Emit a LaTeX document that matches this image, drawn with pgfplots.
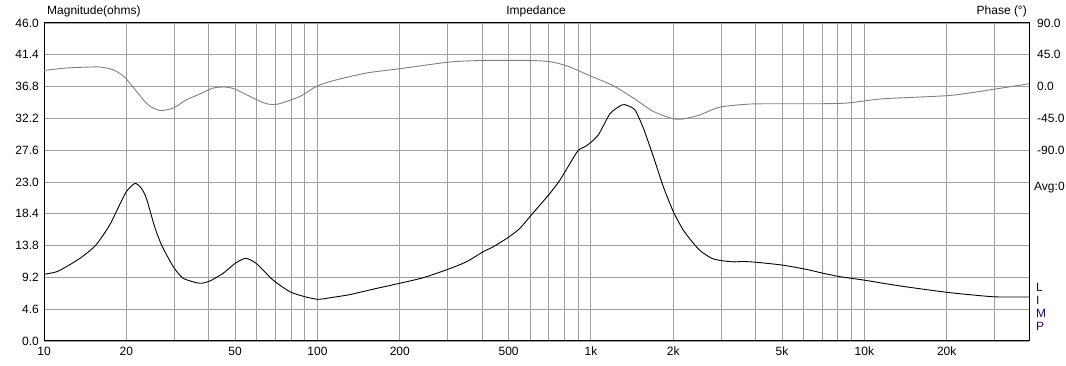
\documentclass[border=0pt]{standalone}
\usepackage{pgfplots}
\pgfplotsset{compat=1.18}
\usepackage{fontspec}
\setmainfont{Liberation Sans}
\definecolor{gridc}{RGB}{160,160,160}
\definecolor{phasec}{RGB}{128,128,128}
\definecolor{limpc}{RGB}{40,0,110}
\begin{document}
\fontsize{12}{14}\selectfont
\begin{tikzpicture}
\begin{axis}[
  scale only axis, width=985pt, height=318pt,
  at={(0,0)}, anchor=south west,
  xmode=log, xmin=10, xmax=40000,
  ymin=0, ymax=46,
  xtick={10,20,50,100,200,500,1000,2000,5000,10000,20000},
  xticklabels={10,20,50,100,200,500,1k,2k,5k,10k,20k},
  minor xtick={30,40,60,70,80,90,300,400,600,700,800,900,3000,4000,6000,7000,8000,9000,30000},
  ytick={0,4.6,9.2,13.8,18.4,23.0,27.6,32.2,36.8,41.4,46.0},
  yticklabel={\pgfmathprintnumber[fixed,fixed zerofill,precision=1,assume math mode=true]{\tick}},
  xticklabel style={font=\fontsize{12}{14}\selectfont, yshift=-2pt},
  yticklabel style={font=\fontsize{12}{14}\selectfont, xshift=-1pt},
  major tick length=0pt, minor tick length=0pt,
  grid=both,
  major grid style={gridc, line width=0.9pt},
  minor grid style={gridc, line width=0.9pt},
  axis line style={black, line width=1pt},
  clip=true,
]
\addplot[black, line width=0.9pt, smooth, tension=0.4] coordinates {
(10,9.65) (11.1,10.0) (12.08,10.75) (13.7,12.1) (15.5,13.9) (17.4,16.8) (18.9,19.7)
(20.0,21.6) (21.5,22.8) (22.7,22.1) (23.7,20.6) (25.4,16.5) (26.9,13.9) (29.7,10.75)
(32.3,9.07) (37.1,8.35) (40.4,8.68) (45.2,9.79) (49.9,11.2) (54.6,11.96) (59.8,11.2)
(68.8,8.82) (79.3,7.13) (89.9,6.41) (100.6,6.03) (114,6.32) (131,6.7) (160,7.5)
(200,8.35) (244,9.16) (300,10.37) (351,11.47) (404,12.92) (440,13.64) (503,15.09)
(550,16.3) (598,17.98) (651,19.67) (709,21.37) (771,23.29) (839,25.7) (900,27.6)
(965,28.25) (1064,29.8) (1175,32.9) (1297,34.14) (1352,34.1) (1450,33.4) (1555,30.8)
(1692,26.66) (1841,22.3) (2002,18.7) (2167,16.15) (2241,15.33) (2493,13.16)
(2767,11.96) (3010,11.62) (3319,11.45) (3610,11.5) (4044,11.38) (4990,10.99)
(6072,10.4) (7086,9.79) (8154,9.3) (9924,8.82) (13520,7.96) (20030,7.04)
(27290,6.51) (30970,6.37) (40000,6.37)
};
\end{axis}
\begin{axis}[
  scale only axis, width=985pt, height=318pt,
  at={(0,0)}, anchor=south west,
  xmode=log, xmin=10, xmax=40000,
  ymin=-360, ymax=90,
  axis x line=none,
  axis y line*=right,
  axis line style={draw=none},
  ytick={-90,-45,0,45,90},
  yticklabel={\pgfmathprintnumber[fixed,fixed zerofill,precision=1,assume math mode=true]{\tick}},
  yticklabel style={font=\fontsize{12}{14}\selectfont, xshift=4pt},
  major tick length=0pt,
  clip=true,
]
\addplot[phasec, line width=0.9pt, smooth, tension=0.4] coordinates {
(10,22.9) (12.08,26.3) (14.7,27.7) (16.0,27.7) (17.9,23.9) (19.7,13.5) (21.8,-6.9)
(24.0,-25.7) (26.5,-33.8) (29.7,-30.4) (33.2,-18.6) (37.1,-10.6) (41.5,-2.1)
(45.8,-0.6) (49.9,-3.5) (58.2,-16.2) (65.1,-24.3) (71.8,-24.7) (86.2,-14.0)
(99,0.2) (114,8.3) (151,19.2) (200,25.3) (305,34.8) (404,37.0) (598,37.0)
(709,35.2) (815,29.5) (992,15.4) (1208,1.2) (1430,-16.2) (1692,-35.2) (2002,-45.6)
(2191,-45.6) (2506,-39.9) (2966,-29) (3817,-24.7) (4920,-24.3) (6700,-24.3)
(8630,-23.3) (11750,-17.2) (20600,-12.5) (30060,-3.5) (40000,4.0)
};
\end{axis}
\node[anchor=west, inner sep=0pt] at (3pt,330pt) {Magnitude(ohms)};
\node[inner sep=0pt] at (492pt,330pt) {Impedance};
\node[anchor=east, inner sep=0pt] at (983pt,330pt) {Phase (°)};
\node[anchor=west, inner sep=0pt] at (990pt,153pt) {Avg:0};
\node[anchor=west, inner sep=0pt, text=limpc, align=left, font=\fontsize{12}{13}\selectfont] at (992pt,34pt) {L\\I\\M\\P};
\pgfresetboundingbox
\path (-44pt,-25pt) rectangle (1022pt,341pt);
\end{tikzpicture}
\end{document}
